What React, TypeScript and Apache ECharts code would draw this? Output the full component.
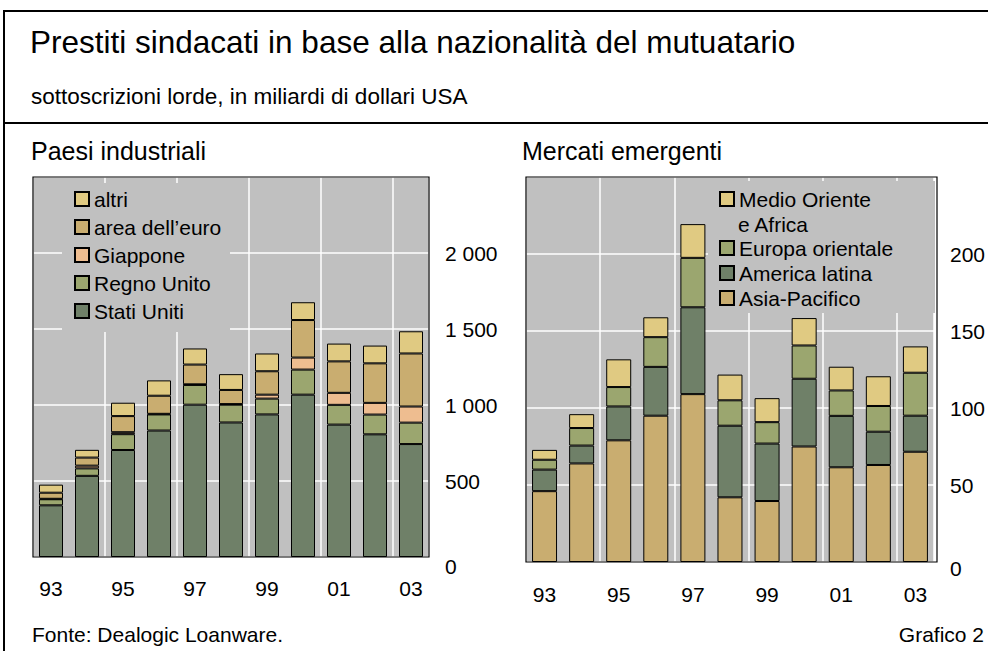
import React, { useEffect, useRef } from "react";
import * as echarts from "echarts";

const years = ["93", "94", "95", "96", "97", "98", "99", "00", "01", "02", "03"];

// Paesi industriali (miliardi di dollari USA)
const statiUniti = [340, 534, 704, 832, 1002, 885, 938, 1068, 871, 807, 743];
const regnoUnito = [40, 49, 104, 106, 130, 117, 104, 165, 130, 130, 141];
const giappone = [3, 18, 13, 4, 4, 4, 26, 79, 79, 77, 106];
const areaEuro = [40, 53, 106, 119, 130, 93, 154, 247, 207, 260, 349];
const altri = [53, 51, 88, 101, 106, 104, 117, 117, 117, 117, 146];

// Mercati emergenti (miliardi di dollari USA)
const asiaPacifico = [46, 64, 79, 95, 109, 42, 39.6, 75, 61.5, 63, 71.6];
const americaLatina = [14, 11.6, 22, 31.7, 56.4, 46.5, 37.3, 44, 33.4, 21.6, 23.4];
const europaOrientale = [6.4, 11.4, 12.6, 19.3, 32.1, 16.5, 13.9, 21.6, 16.5, 16.7, 27.9];
const medioOriente = [6.4, 9, 18, 12.9, 21.9, 16.7, 15.6, 17.8, 15.4, 19.3, 17.1];

const leftTicks = { min: 0, max: 2500, interval: 500 };
const rightTicks = { min: 0, max: 250, interval: 50 };

const FONT = "'Liberation Sans', Arial, Helvetica, sans-serif";
const C_YELLOW = "#e0ca82";
const C_TAN = "#c9ad70";
const C_PEACH = "#eebd90";
const C_OLIVE = "#9ba66f";
const C_DARK = "#6f8068";
const BG = "#c0c0c0";

const GL = { left: 33, top: 177, width: 396, height: 380 };
const GR = { left: 526, top: 177, width: 411, height: 385 };

function fmtLeft(v: number) {
  if (v === leftTicks.max) return "";
  if (v === 0) return "{z|0}";
  if (v >= 1000) return `${Math.floor(v / 1000)} ${String(v % 1000).padStart(3, "0")}`;
  return String(v);
}
function fmtRight(v: number) {
  if (v === rightTicks.max) return "";
  if (v === 0) return "{z|0}";
  return String(v);
}

export default function App() {
  const ref = useRef<HTMLDivElement>(null);
  useEffect(() => {
    document.body.style.margin = "0";
    if (!ref.current) return;
    const chart = echarts.init(ref.current, undefined, { renderer: "svg" });

    const baseBar = (name: string, data: number[], color: string, idx: number, stack: string, bw: number) => ({
      name,
      type: "bar",
      stack,
      xAxisIndex: idx,
      yAxisIndex: idx,
      data,
      barWidth: bw,
      itemStyle: { color, borderColor: "#000", borderWidth: 1 },
      emphasis: { disabled: true },
    });

    const xAxisBase = (gridIndex: number, margin: number) => ({
      type: "category",
      gridIndex,
      data: years,
      axisLine: { show: false },
      axisTick: { show: false },
      axisLabel: { interval: 1, margin, fontSize: 21, lineHeight: 24, color: "#000", fontFamily: FONT },
      splitLine: { show: true, interval: 1, lineStyle: { color: "#ffffff", width: 1.5 } },
    });

    const legendText = { fontSize: 21, lineHeight: 24, color: "#000", fontFamily: FONT };

    const option: any = {
      animation: false,
      title: [
        {
          text: "Prestiti sindacati in base alla nazionalità del mutuatario",
          left: 30, top: 23, padding: 0,
          textStyle: { fontSize: 31.5, lineHeight: 38, fontWeight: "normal", color: "#000", fontFamily: FONT },
        },
        {
          text: "sottoscrizioni lorde, in miliardi di dollari USA",
          left: 31, top: 83, padding: 0,
          textStyle: { fontSize: 22.5, lineHeight: 26, fontWeight: "normal", color: "#000", fontFamily: FONT },
        },
        {
          text: "Paesi industriali",
          left: 31, top: 135.5, padding: 0,
          textStyle: { fontSize: 25, lineHeight: 30, fontWeight: "normal", color: "#000", fontFamily: FONT },
        },
        {
          text: "Mercati emergenti",
          left: 522, top: 135.5, padding: 0,
          textStyle: { fontSize: 25, lineHeight: 30, fontWeight: "normal", color: "#000", fontFamily: FONT },
        },
        {
          text: "Fonte: Dealogic Loanware.",
          left: 32, top: 621, padding: 0,
          textStyle: { fontSize: 21, lineHeight: 26, fontWeight: "normal", color: "#000", fontFamily: FONT },
        },
        {
          text: "Grafico 2",
          right: 4, top: 621, padding: 0,
          textStyle: { fontSize: 21, lineHeight: 26, fontWeight: "normal", color: "#000", fontFamily: FONT },
        },
      ],
      legend: [
        {
          orient: "vertical",
          left: 74, top: 187, padding: 0,
          itemWidth: 14, itemHeight: 14, itemGap: 4,
          icon: "rect",
          selectedMode: false,
          textStyle: legendText,
          data: ["altri", "area dell’euro", "Giappone", "Regno Unito", "Stati Uniti"],
        },
        {
          orient: "vertical",
          left: 719, top: 187, padding: 0,
          itemWidth: 14, itemHeight: 14, itemGap: 1,
          icon: "rect",
          selectedMode: false,
          textStyle: legendText,
          formatter: (n: string) => (n === "Medio Oriente e Africa" ? "Medio Oriente" : n),
          data: ["Medio Oriente e Africa"],
        },
        {
          orient: "vertical",
          left: 719, top: 236, padding: 0,
          itemWidth: 14, itemHeight: 14, itemGap: 1,
          icon: "rect",
          selectedMode: false,
          textStyle: legendText,
          data: ["Europa orientale", "America latina", "Asia-Pacifico"],
        },
      ],
      grid: [
        { ...GL, show: true, backgroundColor: BG, borderWidth: 0, containLabel: false },
        { ...GR, show: true, backgroundColor: BG, borderWidth: 0, containLabel: false },
      ],
      xAxis: [xAxisBase(0, 19.5), xAxisBase(1, 20)],
      yAxis: [
        {
          type: "value", gridIndex: 0, position: "right",
          min: leftTicks.min, max: leftTicks.max, interval: leftTicks.interval,
          axisLine: { show: false }, axisTick: { show: false },
          splitLine: { show: true, lineStyle: { color: "#ffffff", width: 1.5 } },
          axisLabel: {
            margin: 16, align: "left", fontSize: 21, color: "#000", fontFamily: FONT,
            formatter: fmtLeft,
            rich: { z: { padding: [18, 0, 0, 0], fontSize: 21, color: "#000", fontFamily: FONT } },
          },
        },
        {
          type: "value", gridIndex: 1, position: "right",
          min: rightTicks.min, max: rightTicks.max, interval: rightTicks.interval,
          axisLine: { show: false }, axisTick: { show: false },
          splitLine: { show: true, lineStyle: { color: "#ffffff", width: 1.5 } },
          axisLabel: {
            margin: 16, align: "left", fontSize: 21, color: "#000", fontFamily: FONT,
            formatter: fmtRight,
            rich: { z: { padding: [12, 0, 0, 0], fontSize: 21, color: "#000", fontFamily: FONT } },
          },
        },
      ],
      series: [
        baseBar("Stati Uniti", statiUniti, C_DARK, 0, "L", 24),
        baseBar("Regno Unito", regnoUnito, C_OLIVE, 0, "L", 24),
        baseBar("Giappone", giappone, C_PEACH, 0, "L", 24),
        baseBar("area dell’euro", areaEuro, C_TAN, 0, "L", 24),
        baseBar("altri", altri, C_YELLOW, 0, "L", 24),
        baseBar("Asia-Pacifico", asiaPacifico, C_TAN, 1, "R", 25),
        baseBar("America latina", americaLatina, C_DARK, 1, "R", 25),
        baseBar("Europa orientale", europaOrientale, C_OLIVE, 1, "R", 25),
        baseBar("Medio Oriente e Africa", medioOriente, C_YELLOW, 1, "R", 25),
      ],
      graphic: [
        // legend backdrops hiding the grid lines
        { type: "rect", z: 1, silent: true, shape: { x: 62, y: 183, width: 168, height: 149 }, style: { fill: BG } },
        { type: "rect", z: 1, silent: true, shape: { x: 708, y: 181, width: 227, height: 132 }, style: { fill: BG } },
        {
          type: "text", z: 10, silent: true, x: 738, y: 224,
          style: { text: "e Africa", fontSize: 21, fontFamily: FONT, fill: "#000", verticalAlign: "middle", align: "left" },
        },
        // plot borders
        { type: "rect", z: 10, silent: true, shape: { x: GL.left, y: GL.top, width: GL.width, height: GL.height }, style: { fill: "none", stroke: "#000", lineWidth: 1.2 } },
        { type: "rect", z: 10, silent: true, shape: { x: GR.left, y: GR.top, width: GR.width, height: GR.height }, style: { fill: "none", stroke: "#000", lineWidth: 1.2 } },
        // outer frame
        { type: "line", z: 10, silent: true, shape: { x1: 3, y1: 11, x2: 988, y2: 11 }, style: { stroke: "#000", lineWidth: 2 } },
        { type: "line", z: 10, silent: true, shape: { x1: 4, y1: 10, x2: 4, y2: 651 }, style: { stroke: "#000", lineWidth: 2 } },
        { type: "line", z: 10, silent: true, shape: { x1: 3, y1: 123, x2: 988, y2: 123 }, style: { stroke: "#000", lineWidth: 2 } },
      ],
    };
    chart.setOption(option);
    return () => chart.dispose();
  }, []);
  return <div ref={ref} style={{ width: 988, height: 651 }} />;
}
